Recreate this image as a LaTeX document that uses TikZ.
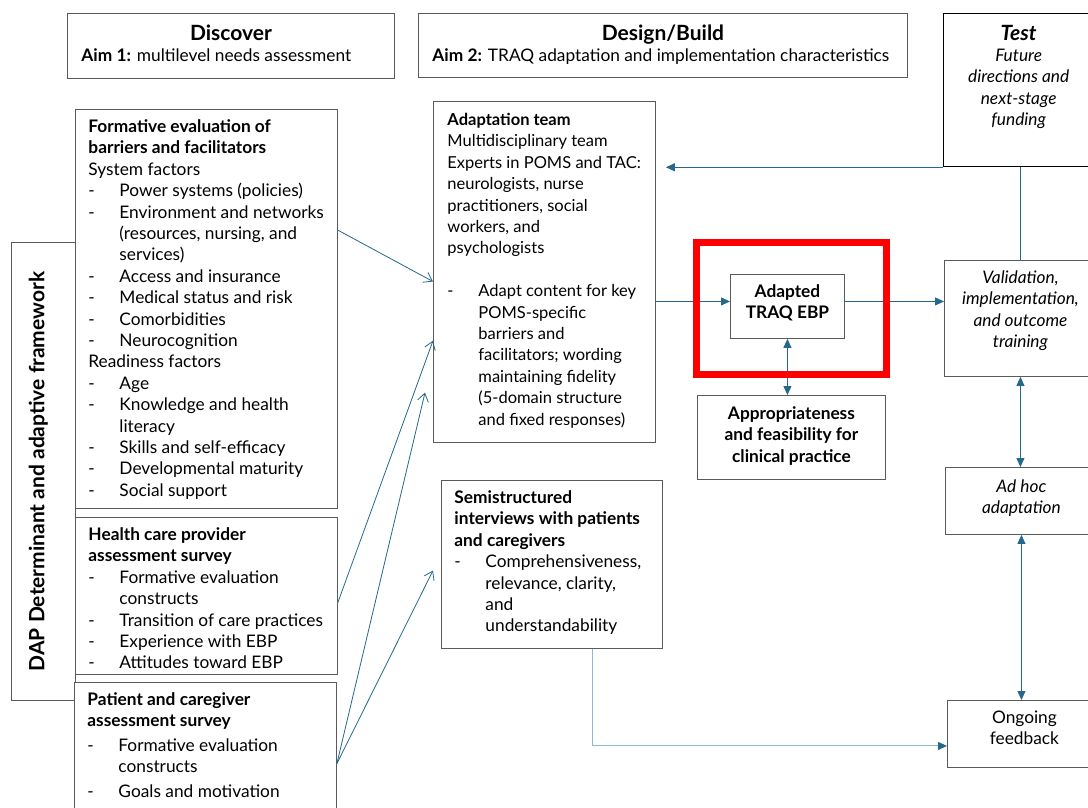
\documentclass[tikz,border=0pt]{standalone}
\usepackage{fontspec}
\setmainfont{Lato}
\usetikzlibrary{positioning, calc, arrows.meta}

\definecolor{flowblue}{RGB}{36,104,140}
\definecolor{paleblue}{RGB}{140,186,208}
\definecolor{framegray}{RGB}{90,90,90}

\newcommand{\cellbox}[3]{\parbox[t][#2][t]{#1}{\parskip=0pt\raggedright\rightskip=-15pt plus 1fil #3}}
\newcommand{\dashitem}[1]{\par\noindent\hangindent=31pt\hangafter=1\makebox[31pt][l]{-}#1}
\newcommand{\headfont}{\fontsize{21}{22}\selectfont\bfseries}

\begin{document}
\begin{tikzpicture}[x=1pt, y=-1pt,
  every node/.style={font=\fontsize{17.3}{21.4}\selectfont},
  panel/.style={draw=framegray, line width=0.9pt, fill=white, anchor=north west,
    inner xsep=13pt, inner ysep=8pt},
  flow/.style={draw=flowblue, line width=0.9pt, -{Triangle[length=9pt, width=8pt]}},
  twoway/.style={flow, {Triangle[length=9pt, width=8pt]}-{Triangle[length=9pt, width=8pt]}},
  feed/.style={draw=flowblue, line width=0.8pt, -{Straight Barb[length=8pt, width=11pt]}},
  paleflow/.style={draw=paleblue, line width=1pt, -{Triangle[length=9pt, width=8pt, color=flowblue]}}
]
  \useasboundingbox (0,0) rectangle (1088,808);
  \clip (0,0) rectangle (1088,808);
  \fill[white] (0,0) rectangle (1088,808);

  % column headers
  \node[panel, inner xsep=14pt, inner ysep=11pt] (discover) at (67,13)
    {\cellbox{299pt}{43pt}{\makebox[\linewidth]{\headfont\strut Discover}\\
      \textbf{Aim 1:} multilevel needs assessment}};
  \node[panel, inner xsep=14pt, inner ysep=11pt] (design) at (418,13)
    {\cellbox{461pt}{42pt}{\makebox[\linewidth]{\headfont\strut Design/Build}\\
      \textbf{Aim 2:} TRAQ adaptation and implementation characteristics}};
  \node[panel, draw=black, line width=1.3pt, inner xsep=8pt, inner ysep=11pt] (test) at (943,13)
    {\cellbox{134pt}{131pt}{\centering{\headfont\itshape\strut Test}\\
      \itshape Future\\ directions and\\ next-stage\\ funding}};

  % determinant framework (left)
  \node[draw=framegray, line width=0.9pt, anchor=north west, inner sep=0pt,
    minimum width=64pt, minimum height=458pt] (dap) at (11,242) {};
  \node[rotate=90, font=\headfont] (daplabel) at ([xshift=-5pt]dap.center)
    {DAP Determinant and adaptive framework};

  % Aim 1 inputs
  \node[panel] (formative) at (75,109)
    {\cellbox{236pt}{383pt}{\strut\textbf{Formative evaluation of}\\
      \textbf{barriers and facilitators}\\ System factors
      \dashitem{Power systems (policies)}
      \dashitem{Environment and networks\newline (resources, nursing, and\newline services)}
      \dashitem{Access and insurance}
      \dashitem{Medical status and risk}
      \dashitem{Comorbidities}
      \dashitem{Neurocognition}
      \par Readiness factors
      \dashitem{Age}
      \dashitem{Knowledge and health\newline literacy}
      \dashitem{Skills and self-efficacy}
      \dashitem{Developmental maturity}
      \dashitem{Social support}}};
  \node[panel] (provider) at (75,517)
    {\cellbox{236pt}{141pt}{\strut\textbf{Health care provider}\\
      \textbf{assessment survey}
      \dashitem{Formative evaluation\newline constructs}
      \dashitem{Transition of care practices}
      \dashitem{Experience with EBP}
      \dashitem{Attitudes toward EBP}}};
  \node[panel] (patient) at (74,682)
    {\cellbox{236pt}{124pt}{\strut\textbf{Patient and caregiver}\\
      \textbf{assessment survey}\par\vspace{3pt}
      \dashitem{Formative evaluation\newline constructs}\par\vspace{3pt}
      \dashitem{Goals and motivation}}};

  % Aim 2 design
  \node[panel, inner xsep=14pt, inner ysep=9pt, font=\fontsize{16.5}{21.4}\selectfont] (team) at (433,101)
    {\cellbox{194pt}{323pt}{\strut\textbf{Adaptation team}\\
      Multidisciplinary team\\ Experts in POMS and TAC:\\ neurologists, nurse\\
      practitioners, social\\ workers, and\\ psychologists\par\vspace{21.4pt}
      \dashitem{Adapt content for key\newline POMS-specific\newline barriers and\newline
        facilitators; wording\newline maintaining fidelity\newline
        (5-domain structure\newline and fixed responses)}}};
  \node[panel] (semi) at (441,480)
    {\cellbox{195pt}{152pt}{\strut\textbf{Semistructured}\\
      \textbf{interviews with patients}\\ \textbf{and caregivers}
      \dashitem{Comprehensiveness,\newline relevance, clarity,\newline and\newline understandability}}};
  \node[panel, inner xsep=6pt] (traq) at (730,274)
    {\cellbox{102pt}{48pt}{\centering\bfseries\strut Adapted\\ TRAQ EBP}};
  \node[panel, inner xsep=6pt, inner ysep=9pt] (appr) at (697,395)
    {\cellbox{176pt}{66pt}{\centering\bfseries\strut Appropriateness\\
      and feasibility for\\ clinical practice}};

  % test column
  \node[panel, inner xsep=6pt] (valid) at (944,260)
    {\cellbox{140pt}{100pt}{\centering\itshape\strut Validation,\\ implementation,\\
      and outcome\\ training}};
  \node[panel, inner xsep=6pt, inner ysep=10pt] (adhoc) at (945,467)
    {\cellbox{140pt}{47pt}{\centering\itshape\strut Ad hoc\\ adaptation}};
  \node[panel, inner xsep=6pt] (ongoing) at (947,700)
    {\cellbox{142pt}{51pt}{\centering\strut Ongoing\\ feedback}};

  % inputs into the adaptation
  \draw[feed] ($(formative.north east)!0.303!(formative.south east)$)
    -- ($(team.north west)!0.528!(team.south west)$);
  \draw[feed] ($(provider.north east)!0.541!(provider.south east)$)
    -- ($(team.north west)!0.701!(team.south west)$);
  \draw[feed] ($(patient.north east)!0.579!(patient.south east)$)
    -- ($(team.north west)!0.853!(team.south west)+(-8,0)$);
  \draw[feed] ($(patient.north east)!0.579!(patient.south east)$)
    -- ($(semi.north west)!0.536!(semi.south west)+(-8,0)$);

  % main flow
  \draw[flow] ([yshift=5pt]traq.west -| team.east) -- ([yshift=5pt]traq.west);
  \draw[flow] ([yshift=5pt]traq.east) -- ([yshift=5pt]traq.east -| valid.west);
  \draw[twoway] (traq.south) -- (traq.south |- appr.north);
  \draw[twoway] (valid.south) -- (valid.south |- adhoc.north);
  \draw[twoway] (adhoc.south) -- (adhoc.south |- ongoing.north);

  % feedback to the team
  \path ([xshift=10pt]team.east) coordinate (teamback);
  \draw[flowblue, line width=0.8pt] (valid.north) -- (valid.north |- test.south);
  \draw[flow] (test.south west) -- (teamback |- test.south);
  \draw[paleflow] ($(semi.south west)!0.683!(semi.south east)$)
    |- ([yshift=-12pt]ongoing.west);

  % highlight
  \node[draw=red, line width=7.5pt, inner sep=0pt, minimum width=190pt,
    minimum height=132pt] (focus) at (791.6,308.3) {};
\end{tikzpicture}
\end{document}
